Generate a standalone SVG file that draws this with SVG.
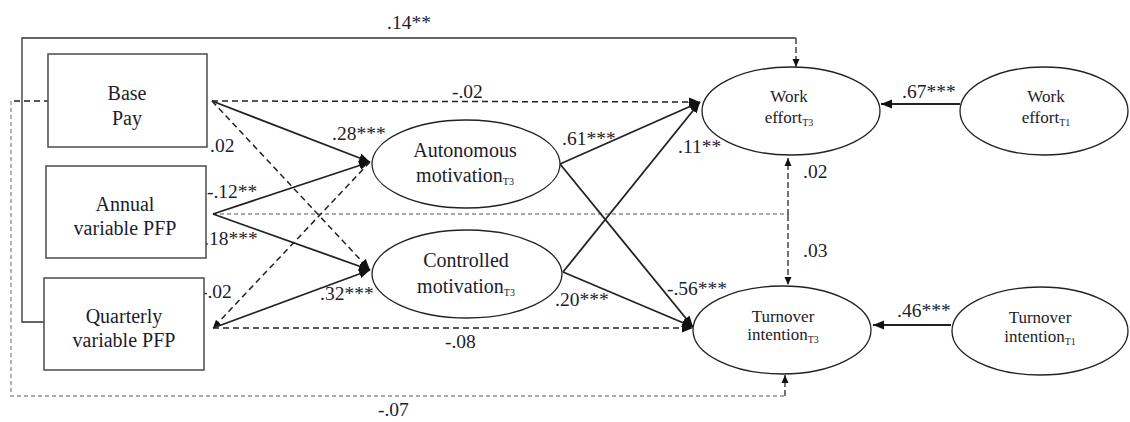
<svg xmlns="http://www.w3.org/2000/svg" width="1130" height="422" viewBox="0 0 1130 422">
<defs>
<marker id="arr" markerUnits="userSpaceOnUse" markerWidth="12" markerHeight="10" refX="11" refY="5" orient="auto"><path d="M0,0.5 L11,5 L0,9.5 z" fill="#111"/></marker>
<marker id="arrS" markerUnits="userSpaceOnUse" markerWidth="9" markerHeight="8" refX="8" refY="4" orient="auto"><path d="M0,0.5 L8,4 L0,7.5 z" fill="#111"/></marker>
</defs>
<style>
.box{fill:#fff;stroke:#555;stroke-width:1.6}
.ell{fill:#fff;stroke:#222;stroke-width:1.3}
text{font-family:'Liberation Serif','DejaVu Serif',serif;fill:#1c1c2c}
.t{text-anchor:middle}
.bt{font-size:20px}
.et{font-size:20px}
.st{font-size:17px}
.lab{font-size:19.5px}
.sub{font-size:10px}
.sol{fill:none;stroke:#222;stroke-width:1.8}
.thin{fill:none;stroke:#333;stroke-width:1.3}
.dash{fill:none;stroke:#222;stroke-width:1.5;stroke-dasharray:6 4}
.gdot{fill:none;stroke:#aaa;stroke-width:1.8;stroke-dasharray:4 3}
.vd{fill:none;stroke:#444;stroke-width:1.5;stroke-dasharray:6 3}
</style>
<g id="connectors">
<path class="thin" d="M44,322 H22 V38 H796"/>
<path class="vd" d="M796,38 V67" marker-end="url(#arrS)"/>
<path class="dash" d="M50,101 H11"/>
<path class="gdot" d="M11,101 V396 H785"/>
<path class="vd" d="M785,396 V375" marker-end="url(#arrS)"/>
<path class="gdot" d="M213,214 H788"/>
<path class="vd" d="M788,215 V158" marker-end="url(#arrS)"/>
<path class="vd" d="M788,215 V285" marker-end="url(#arrS)"/>
<path class="dash" d="M212,101 L700,102" marker-end="url(#arr)"/>
<path class="sol" d="M212,101 L370,162" marker-end="url(#arr)"/>
<path class="dash" d="M212,101 L370,270" marker-end="url(#arr)"/>
<path class="sol" d="M213,214 L370,162" marker-end="url(#arr)"/>
<path class="sol" d="M213,214 L370,270" marker-end="url(#arr)"/>
<path class="dash" d="M370,162 L213,328" marker-end="url(#arrS)"/>
<path class="sol" d="M213,328 L370,270" marker-end="url(#arr)"/>
<path class="dash" d="M213,328 L693,328" marker-end="url(#arr)"/>
<path class="sol" d="M560,164 L700,102" marker-end="url(#arr)"/>
<path class="sol" d="M560,164 L693,327" marker-end="url(#arr)"/>
<path class="sol" d="M563,272 L700,102" marker-end="url(#arr)"/>
<path class="sol" d="M563,272 L693,327" marker-end="url(#arr)"/>
<path class="sol" d="M960,104 H881" marker-end="url(#arr)"/>
<path class="sol" d="M951,325 H873" marker-end="url(#arr)"/>
</g>
<g id="labels">
<text class="lab" x="387" y="29">.14**</text>
<text class="lab" x="452" y="98">-.02</text>
<text class="lab" x="332" y="140">.28***</text>
<text class="lab" x="210" y="152">.02</text>
<text class="lab" x="207" y="198">-.12**</text>
<text class="lab" x="204" y="245">.18***</text>
<text class="lab" x="201" y="298">-.02</text>
<text class="lab" x="320" y="300">.32***</text>
<text class="lab" x="562" y="145">.61***</text>
<text class="lab" x="678" y="153">.11**</text>
<text class="lab" x="555" y="306">.20***</text>
<text class="lab" x="667" y="295">-.56***</text>
<text class="lab" x="445" y="348">-.08</text>
<text class="lab" x="378" y="416">-.07</text>
<text class="lab" x="902" y="98">.67***</text>
<text class="lab" x="803" y="178">.02</text>
<text class="lab" x="803" y="257">.03</text>
<text class="lab" x="897" y="317">.46***</text>
</g>
<g id="base-pay">
<rect class="box" x="48" y="54" width="159" height="93"/>
<text class="t bt" x="127" y="100">Base</text>
<text class="t bt" x="127" y="125">Pay</text>
</g>
<g id="annual-pfp">
<rect class="box" x="46" y="166" width="160" height="92"/>
<text class="t bt" x="125" y="211">Annual</text>
<text class="t bt" x="125" y="235">variable PFP</text>
</g>
<g id="quarterly-pfp">
<rect class="box" x="44" y="278" width="160" height="92"/>
<text class="t bt" x="124" y="323">Quarterly</text>
<text class="t bt" x="124" y="347">variable PFP</text>
</g>
<g id="autonomous">
<ellipse class="ell" cx="466" cy="164" rx="94" ry="44"/>
<text class="t et" x="465" y="157">Autonomous</text>
<text class="t et" x="465" y="182">motivation<tspan class="sub" dy="3">T3</tspan></text>
</g>
<g id="controlled">
<ellipse class="ell" cx="467" cy="274" rx="95" ry="44"/>
<text class="t et" x="466" y="267">Controlled</text>
<text class="t et" x="466" y="293">motivation<tspan class="sub" dy="3">T3</tspan></text>
</g>
<g id="work-effort-t3">
<ellipse class="ell" cx="791" cy="111" rx="89" ry="44"/>
<text class="t st" x="789" y="102">Work</text>
<text class="t st" x="789" y="123">effort<tspan class="sub" dy="3">T3</tspan></text>
</g>
<g id="work-effort-t1">
<ellipse class="ell" cx="1044" cy="111" rx="84" ry="44"/>
<text class="t st" x="1046" y="102">Work</text>
<text class="t st" x="1046" y="123">effort<tspan class="sub" dy="3">T1</tspan></text>
</g>
<g id="turnover-t3">
<ellipse class="ell" cx="782" cy="330" rx="89" ry="44"/>
<text class="t st" x="783" y="322">Turnover</text>
<text class="t st" x="783" y="340">intention<tspan class="sub" dy="3">T3</tspan></text>
</g>
<g id="turnover-t1">
<ellipse class="ell" cx="1040" cy="331" rx="88" ry="44"/>
<text class="t st" x="1040" y="323">Turnover</text>
<text class="t st" x="1040" y="342">intention<tspan class="sub" dy="3">T1</tspan></text>
</g>
</svg>
